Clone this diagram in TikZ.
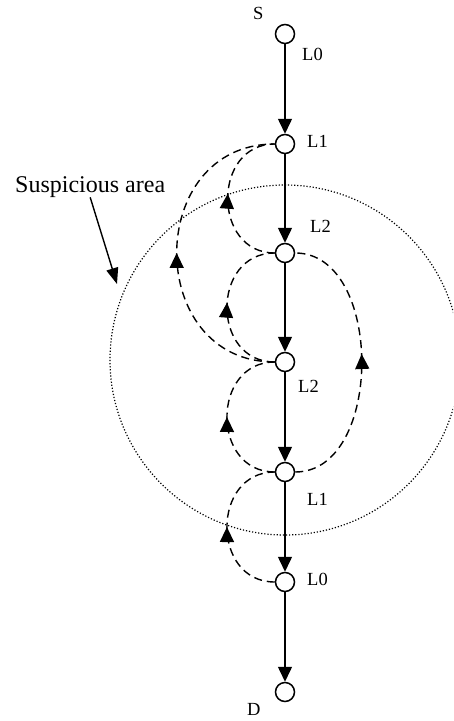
\documentclass[tikz,border=0pt]{standalone}
\usepackage{fontspec}
\setmainfont{Liberation Serif}
\usetikzlibrary{arrows.meta,decorations.markings}

\begin{document}
\begin{tikzpicture}[x=1pt,y=-1pt,
  station/.style={circle,draw,line width=1.5pt,fill=white,minimum size=19pt,inner sep=0pt},
  lbl/.style={anchor=base west,inner sep=0pt,font=\fontsize{18.5}{20}\selectfont},
  flow/.style={line width=1.5pt,-{Triangle[length=15pt,width=14pt]}},
  detour/.style={line width=1.4pt,dash pattern=on 8pt off 5pt},
  midarrow/.style={decoration={markings,mark=at position #1 with {\arrow{Triangle[length=15pt,width=14pt]}}},postaction={decorate}},
  arealine/.style={line width=1.2pt,dash pattern=on 1.2pt off 1.9pt},
  ]
\useasboundingbox (0,0) rectangle (453,721);
\clip (0,0) rectangle (453,721);

% nodes
\node[station] (nS) at (285,34) {};
\node[station] (nA) at (285,144) {};
\node[station] (nB) at (285,253) {};
\node[station] (nC) at (285,362) {};
\node[station] (nE) at (285,472) {};
\node[station] (nF) at (285,582) {};
\node[station] (nD) at (285,692) {};

% labels
\node[lbl] (tS) at (253,19) {S};
\node[lbl] (t0a) at (302,60) {L0};
\node[lbl] (t1a) at (307,147) {L1};
\node[lbl] (t2a) at (310,232) {L2};
\node[lbl] (t2b) at (298,392) {L2};
\node[lbl] (t1b) at (307,505) {L1};
\node[lbl] (t0b) at (307,585) {L0};
\node[lbl] (tD) at (247,715) {D};

% suspicious area
\draw[arealine] (285,360) circle[radius=175];
\node[anchor=base west,inner sep=0pt,font=\fontsize{24}{27}\selectfont] (susp) at (15,192) {Suspicious area};
\coordinate (areatip) at (117,284);
\draw[line width=1.4pt,-{Triangle[length=16pt,width=12pt]}] (susp.south) -- (areatip);

% dashed detours
\draw[detour,midarrow=0.5] (nF.west) .. controls (211,582) and (211,472) .. (nE.west);
\draw[detour,midarrow=0.5] (nE.west) .. controls (211,472) and (211,362) .. (nC.west);
\draw[detour,midarrow=0.53] (nC.west) .. controls (211,362) and (211,253) .. (nB.west);
\draw[detour,midarrow=0.53] (nB.west) .. controls (212,253) and (212,144) .. (nA.west);
\draw[detour,midarrow=0.5] (nC.west) .. controls (144,362) and (144,144) .. (nA.west);
\draw[detour,midarrow=0.53] (nE.east) .. controls (384,472) and (384,253) .. (nB.east);

% main flow
\draw[flow] (nS) -- (nA);
\draw[flow] (nA) -- (nB);
\draw[flow] (nB) -- (nC);
\draw[flow] (nC) -- (nE);
\draw[flow] (nE) -- (nF);
\draw[flow] (nF) -- (nD);
\end{tikzpicture}
\end{document}
